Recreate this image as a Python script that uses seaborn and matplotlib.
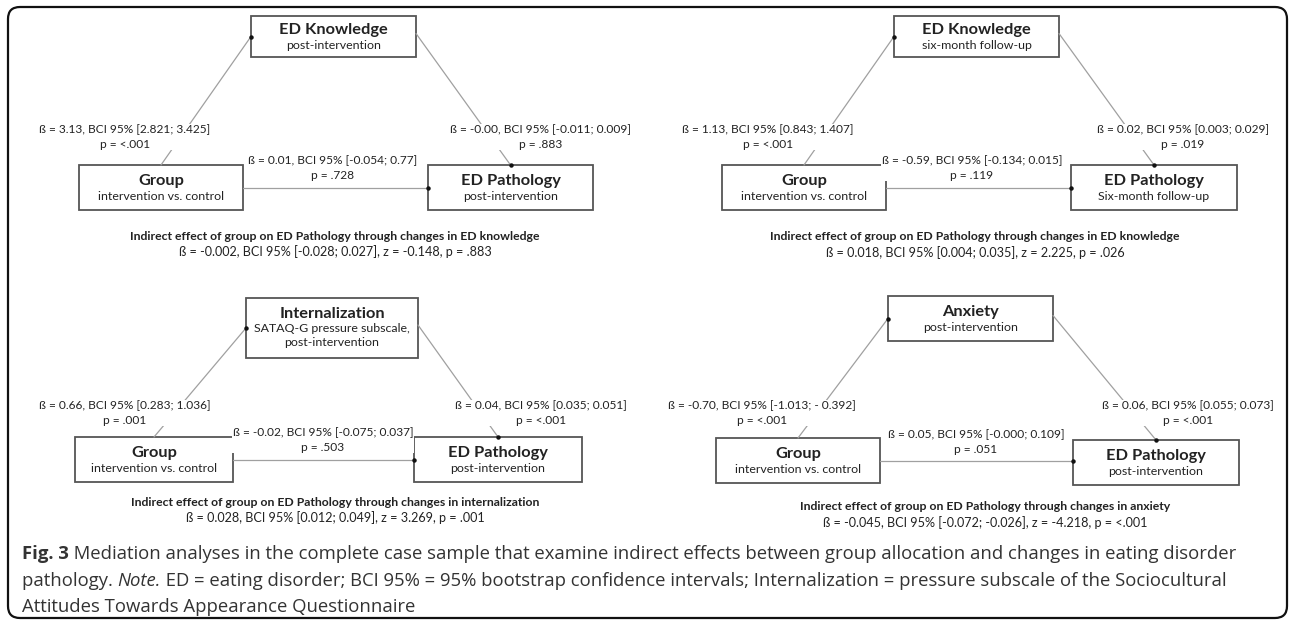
import matplotlib
matplotlib.use("Agg")
import matplotlib.pyplot as plt
import seaborn as sns
from matplotlib.patches import Rectangle, FancyBboxPatch

sns.set_theme(style="white")
plt.rcParams['font.family'] = ['Lato', 'DejaVu Sans']

# ---- content of the four mediation diagrams ----
mediator_names = ["ED Knowledge", "ED Knowledge", "Internalization", "Anxiety"]
mediator_subs = ["post-intervention", "six-month follow-up",
                 "SATAQ-G pressure subscale,\npost-intervention", "post-intervention"]
group_name = "Group"
group_sub = "intervention vs. control"
outcome_name = "ED Pathology"
outcome_subs = ["post-intervention", "Six-month follow-up", "post-intervention", "post-intervention"]

a_paths = ["ß = 3.13, BCI 95% [2.821; 3.425]\np = <.001",
           "ß = 1.13, BCI 95% [0.843; 1.407]\np = <.001",
           "ß = 0.66, BCI 95% [0.283; 1.036]\np = .001",
           "ß = -0.70, BCI 95% [-1.013; - 0.392]\np = <.001"]
b_paths = ["ß = -0.00, BCI 95% [-0.011; 0.009]\np = .883",
           "ß = 0.02, BCI 95% [0.003; 0.029]\np = .019",
           "ß = 0.04, BCI 95% [0.035; 0.051]\np = <.001",
           "ß = 0.06, BCI 95% [0.055; 0.073]\np = <.001"]
c_paths = ["ß = 0.01, BCI 95% [-0.054; 0.77]\np = .728",
           "ß = -0.59, BCI 95% [-0.134; 0.015]\np = .119",
           "ß = -0.02, BCI 95% [-0.075; 0.037]\np = .503",
           "ß = 0.05, BCI 95% [-0.000; 0.109]\np = .051"]
indirect_titles = ["Indirect effect of group on ED Pathology through changes in ED knowledge",
                   "Indirect effect of group on ED Pathology through changes in ED knowledge",
                   "Indirect effect of group on ED Pathology through changes in internalization",
                   "Indirect effect of group on ED Pathology through changes in anxiety"]
indirect_stats = ["ß = -0.002, BCI 95% [-0.028; 0.027], z = -0.148, p = .883",
                  "ß = 0.018, BCI 95% [0.004; 0.035], z = 2.225, p = .026",
                  "ß = 0.028, BCI 95% [0.012; 0.049], z = 3.269, p = .001",
                  "ß = -0.045, BCI 95% [-0.072; -0.026], z = -4.218, p = <.001"]

caption_bold = "Fig. 3"
caption_line1 = " Mediation analyses in the complete case sample that examine indirect effects between group allocation and changes in eating disorder"
caption_line2a = "pathology. "
caption_note = "Note."
caption_line2b = " ED = eating disorder; BCI 95% = 95% bootstrap confidence intervals; Internalization = pressure subscale of the Sociocultural"
caption_line3 = "Attitudes Towards Appearance Questionnaire"

# ---- layout (pixel units, y downwards) ----
med_boxes = [(251, 16, 165, 41), (894, 16, 165, 41), (246, 298, 172, 60), (888, 296, 165, 45)]
grp_boxes = [(79, 165, 164, 45), (722, 165, 164, 45), (75, 437, 158, 45), (716, 438, 164, 45)]
out_boxes = [(428, 165, 165, 45), (1071, 165, 166, 45), (414, 437, 168, 45), (1073, 440, 166, 45)]
a_pos = [(125, 137), (768, 137), (125, 413), (762, 413)]
b_pos = [(541, 137), (1183, 137), (541, 413), (1188, 413)]
c_pos = [(333, 168), (972, 168), (323, 440), (976, 442)]
ind_pos = [(335, 236), (975, 237), (335, 502), (985, 507)]

W, H = 1292, 622
fig = plt.figure(figsize=(W / 100, H / 100), dpi=100)
ax = fig.add_axes([0, 0, 1, 1])
ax.set_xlim(0, W)
ax.set_ylim(H, 0)
ax.axis("off")

txt_col = "#222222"
line_col = "#a0a0a0"
edge_col = "#555555"
lbl_fs = 8.6


def draw_box(box, title, sub, title_fs=11.8):
    x, y, w, h = box
    ax.add_patch(Rectangle((x, y), w, h, fill=False, ec=edge_col, lw=1.3))
    n = sub.count("\n") + 1
    top = y + h / 2 - (n * 15.5) / 2
    ax.text(x + w / 2, top + 1, title, ha="center", va="center", fontsize=title_fs,
            fontweight="bold", color=txt_col)
    ax.text(x + w / 2, top + 11, sub, ha="center", va="top", fontsize=8.9,
            color=txt_col, linespacing=1.3)


def arrow(p0, p1):
    ax.plot([p0[0], p1[0]], [p0[1], p1[1]], color=line_col, lw=0.9, zorder=1)
    ax.plot([p1[0]], [p1[1]], marker="o", ms=2.2, color="#111111", zorder=2)


for i in range(4):
    mb, gb, ob = med_boxes[i], grp_boxes[i], out_boxes[i]
    draw_box(mb, mediator_names[i], mediator_subs[i])
    draw_box(gb, group_name, group_sub)
    draw_box(ob, outcome_name, outcome_subs[i])

    # a path: group top -> mediator left
    arrow((gb[0] + gb[2] / 2, gb[1]), (mb[0], mb[1] + mb[3] / 2))
    # b path: mediator right -> outcome top
    arrow((mb[0] + mb[2], mb[1] + mb[3] / 2 - 3), (ob[0] + ob[2] / 2, ob[1]))
    # c path: group right -> outcome left
    arrow((gb[0] + gb[2], gb[1] + gb[3] / 2), (ob[0], gb[1] + gb[3] / 2))

    for s, pos in ((a_paths[i], a_pos[i]), (b_paths[i], b_pos[i]), (c_paths[i], c_pos[i])):
        ax.text(pos[0], pos[1], s, ha="center", va="center", fontsize=lbl_fs,
                color=txt_col, linespacing=1.45,
                bbox=dict(fc="white", ec="none", pad=0.3))

    ax.text(ind_pos[i][0], ind_pos[i][1], indirect_titles[i], ha="center", va="center",
            fontsize=8.8, fontweight="bold", color=txt_col)
    ax.text(ind_pos[i][0], ind_pos[i][1] + 16, indirect_stats[i], ha="center", va="center",
            fontsize=9.1, color=txt_col)

# outer rounded frame
ax.add_patch(FancyBboxPatch((8, 7), 1279, 611, boxstyle="round,pad=0,rounding_size=12",
                            fill=False, ec="#111111", lw=1.6))

# caption with mixed styles, pieces placed one after another
cap_col = "#333333"
cap_fs = 13.3
cap_font = ["Open Sans", "DejaVu Sans"]
renderer = fig.canvas.get_renderer()
inv = ax.transData.inverted()


def put(x, y, s, **kw):
    t = ax.text(x, y, s, ha="left", va="baseline", fontsize=cap_fs, color=cap_col,
                family=cap_font, **kw)
    bb = t.get_window_extent(renderer=renderer)
    return inv.transform((bb.x1, bb.y0))[0]


x = put(22, 559, caption_bold, fontweight="bold")
put(x, 559, caption_line1)
x = put(22, 586, caption_line2a)
x = put(x, 586, caption_note, style="italic")
put(x, 586, caption_line2b)
put(22, 612, caption_line3)

fig.savefig("out.png", dpi=100)
